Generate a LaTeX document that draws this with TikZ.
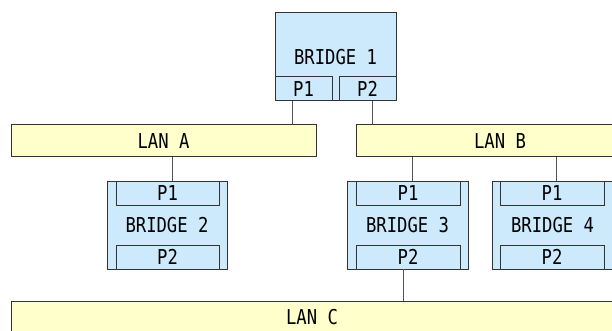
\documentclass[tikz,border=0pt]{standalone}
\usepackage{fontspec}
\newfontfamily\lblfont[FakeStretch=0.84]{DejaVu Sans Mono}
\definecolor{bluef}{HTML}{CDEAFC}
\definecolor{yellowf}{HTML}{FFFFCC}
\definecolor{edgec}{HTML}{333333}
\definecolor{wirec}{HTML}{555555}
\tikzset{
  box/.style={draw=edgec, line width=1pt, inner sep=0pt, outer sep=0pt, anchor=north west,
    font=\lblfont\fontsize{20.5}{20.5}\selectfont, text=black},
  bridgebox/.style={box, fill=bluef, minimum width=#1, minimum height=88pt},
  bridgebox/.default=121pt,
  portbox/.style={box, fill=bluef, minimum height=24pt, minimum width=#1},
  lanbox/.style={box, fill=yellowf, minimum height=32pt, minimum width=#1},
  wire/.style={draw=wirec, line width=1pt}
}
\begin{document}
\begin{tikzpicture}[x=1pt,y=-1pt]
\clip (0,0) rectangle (612,331);
\fill[white] (0,0) rectangle (612,331);
% Bridge 1
\node[bridgebox] (b1) at (275,13) {BRIDGE 1};
\node[portbox=57pt] (b1p1) at (275,77) {P1};
\node[portbox=57pt] (b1p2) at (339,77) {P2};
% LANs
\node[lanbox=305pt] (lanA) at (11,125) {LAN A};
\node[lanbox=288pt] (lanB) at (356,125) {LAN B};
\node[lanbox=602pt] (lanC) at (11,301) {LAN C};
% Bridge 2
\node[bridgebox=120pt] (b2) at (107,181) {BRIDGE 2};
\node[portbox=103pt] (b2p1) at (116,181) {P1};
\node[portbox=103pt] (b2p2) at (116,245) {P2};
% Bridge 3
\node[bridgebox=121pt] (b3) at (347,181) {BRIDGE 3};
\node[portbox=104pt] (b3p1) at (356,181) {P1};
\node[portbox=104pt] (b3p2) at (356,245) {P2};
% Bridge 4
\node[bridgebox=121pt] (b4) at (492,181) {BRIDGE 4};
\node[portbox=104pt] (b4p1) at (500,181) {P1};
\node[portbox=104pt] (b4p2) at (500,245) {P2};
% connectors
\draw[wire] ([xshift=-11.5pt]b1p1.south) coordinate (w1) -- (w1 |- lanA.north);
\draw[wire] ([xshift=4.5pt]b1p2.south) coordinate (w2) -- (w2 |- lanB.north);
\draw[wire] ([xshift=4.5pt]b2p1.north) coordinate (w3) -- (w3 |- lanA.south);
\draw[wire] ([xshift=4pt]b3p1.north) coordinate (w4) -- (w4 |- lanB.south);
\draw[wire] ([xshift=4pt]b4p1.north) coordinate (w5) -- (w5 |- lanB.south);
\draw[wire] ([xshift=-5pt]b3p2.south) coordinate (w6) -- (w6 |- lanC.north);
\end{tikzpicture}
\end{document}
